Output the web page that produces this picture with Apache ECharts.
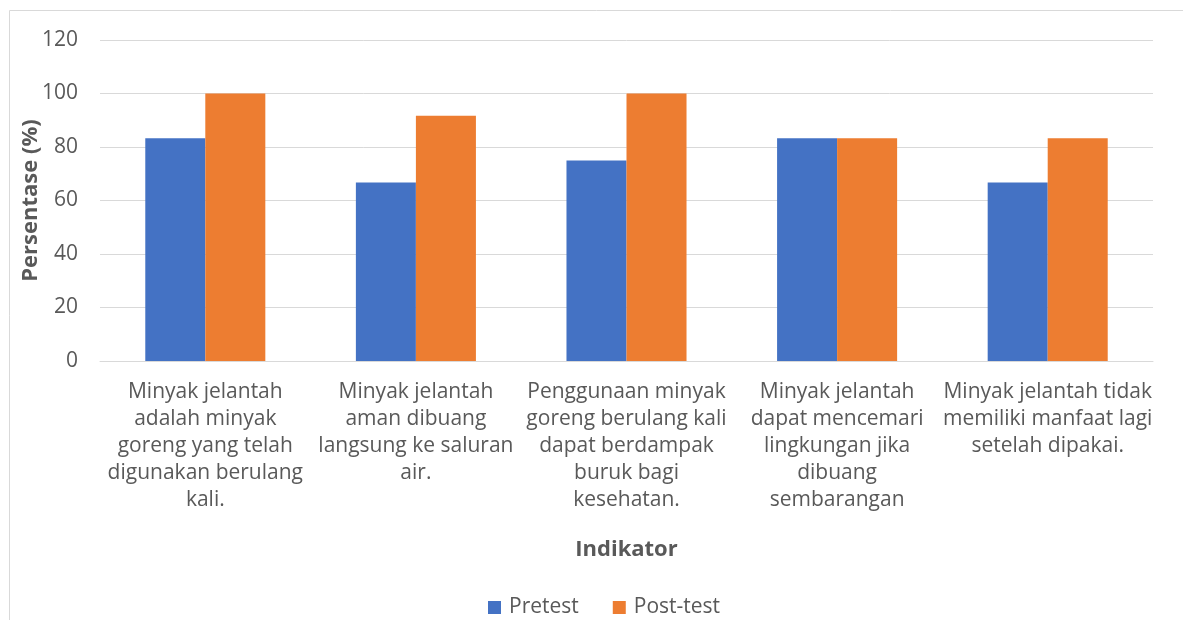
<!DOCTYPE html>
<html>
<head>
<meta charset="utf-8">
<script src="https://cdn.jsdelivr.net/npm/echarts@6/dist/echarts.min.js"></script>
<style>
  html, body { margin: 0; padding: 0; background: #fff; }
  #chart { width: 1183px; height: 620px; }
</style>
</head>
<body>
<div id="chart"></div>
<script>
  // kategori indikator (baris dipecah seperti di gambar)
  const categories = [
    'Minyak jelantah\nadalah minyak\ngoreng yang telah\ndigunakan berulang\nkali.',
    'Minyak jelantah\naman dibuang\nlangsung ke saluran\nair.',
    'Penggunaan minyak\ngoreng berulang kali\ndapat berdampak\nburuk bagi\nkesehatan.',
    'Minyak jelantah\ndapat mencemari\nlingkungan jika\ndibuang\nsembarangan',
    'Minyak jelantah tidak\nmemiliki manfaat lagi\nsetelah dipakai.'
  ]
  const pretest = [83.3, 66.7, 75, 83.3, 66.7]
  const posttest = [100, 91.7, 100, 83.3, 83.3]

  const fontFamily = '"Open Sans", Lato, sans-serif'
  const textColor = '#595959'

  let chart = echarts.init(document.getElementById('chart'))
  chart.setOption({
    animation: false,
    textStyle: { fontFamily: fontFamily },
    color: ['#4472c4', '#ed7d31'],
    graphic: [{
      type: 'rect',
      shape: { x: 9.5, y: 10.5, width: 1300, height: 800 },
      style: { fill: 'none', stroke: '#d9d9d9', lineWidth: 1 },
      silent: true
    }],
    legend: {
      bottom: -3,
      left: 483,
      itemWidth: 13,
      itemHeight: 13,
      itemGap: 34,
      icon: 'rect',
      textStyle: { color: textColor, fontSize: 21, fontFamily: fontFamily, padding: [0, 0, 0, 3] },
      data: ['Pretest', 'Post-test']
    },
    grid: {
      left: 100,
      right: 30,
      top: 40,
      bottom: 259
    },
    xAxis: {
      type: 'category',
      data: categories,
      name: 'Indikator',
      nameLocation: 'middle',
      nameGap: 178,
      nameTextStyle: { color: textColor, fontSize: 22, fontWeight: 'bold', fontFamily: fontFamily },
      axisLine: { lineStyle: { color: '#d9d9d9', width: 1 } },
      axisTick: { show: false },
      axisLabel: {
        interval: 0,
        color: textColor,
        fontSize: 21,
        lineHeight: 27,
        margin: 18,
        fontFamily: fontFamily
      }
    },
    yAxis: {
      type: 'value',
      min: 0,
      max: 120,
      interval: 20,
      name: 'Persentase (%)',
      nameLocation: 'middle',
      nameGap: 58,
      nameMoveOverlap: false,
      nameTextStyle: { color: textColor, fontSize: 22, fontWeight: 'bold', fontFamily: fontFamily },
      axisLine: { show: false },
      axisTick: { show: false },
      axisLabel: { color: textColor, fontSize: 21, margin: 22, fontFamily: fontFamily },
      splitLine: { lineStyle: { color: '#d9d9d9', width: 1 } }
    },
    series: [
      {
        name: 'Pretest',
        type: 'bar',
        data: pretest,
        barGap: '0%',
        barCategoryGap: '43%'
      },
      {
        name: 'Post-test',
        type: 'bar',
        data: posttest
      }
    ]
  })
</script>
</body>
</html>
